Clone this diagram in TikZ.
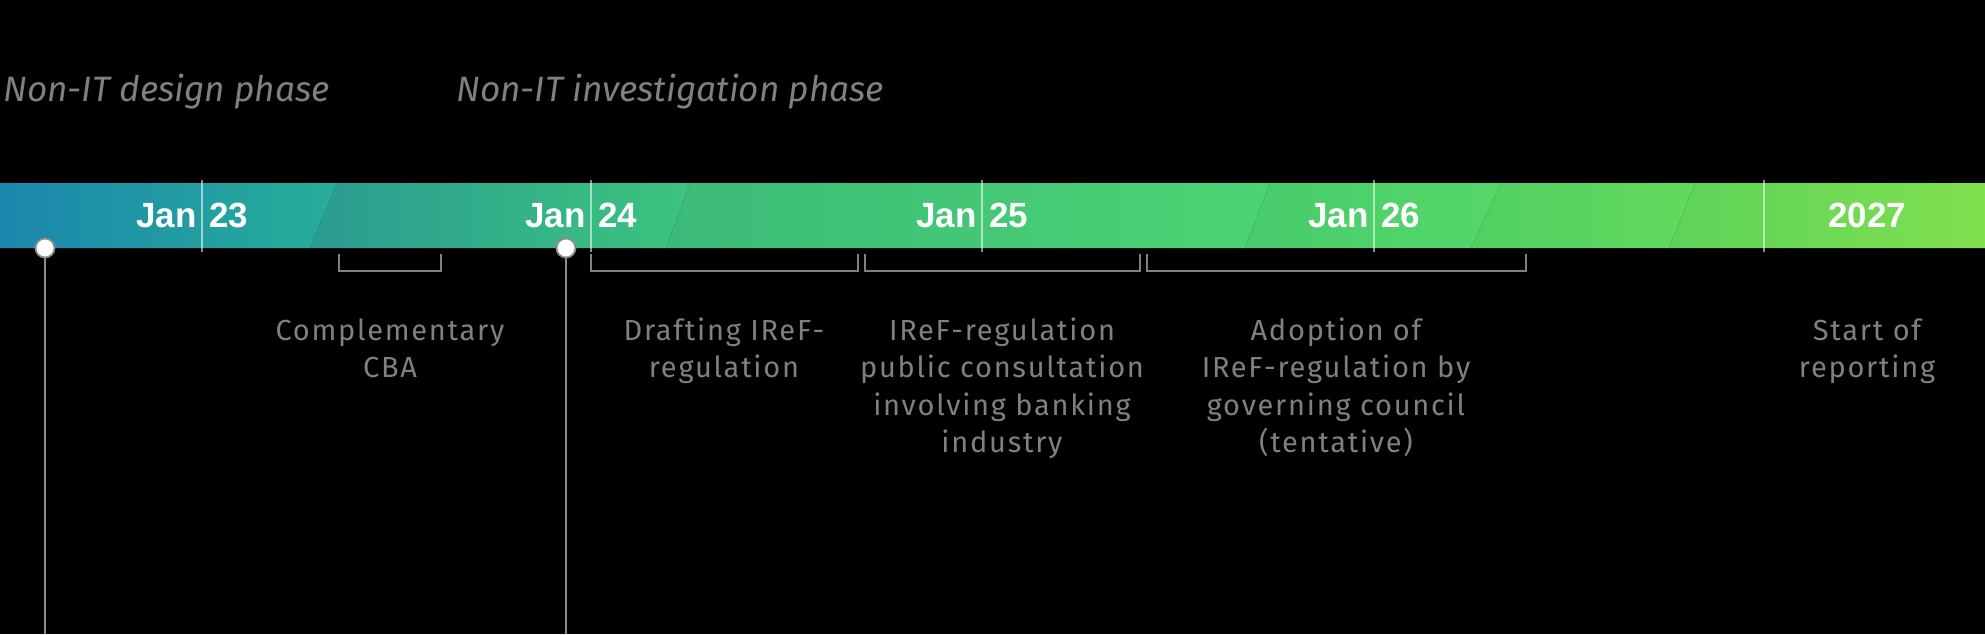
\documentclass[tikz,border=0pt]{standalone}
\usepackage{fontspec}
\setmainfont{Fira Sans}
\newfontfamily\barfont{Liberation Sans}
\newfontfamily\stepfont[LetterSpace=6]{Fira Sans}
\usetikzlibrary{positioning}
\definecolor{txtgray}{HTML}{808080}
\definecolor{pingray}{HTML}{8C8C8C}
% bar colours, left to right
\definecolor{barA}{HTML}{1B86AE}
\definecolor{barB}{HTML}{27AE98}
\definecolor{barC}{HTML}{2A9B92}
\definecolor{barD}{HTML}{3CC47E}
\definecolor{barE}{HTML}{3BBA79}
\definecolor{barF}{HTML}{4CD472}
\definecolor{barG}{HTML}{47CB6C}
\definecolor{barH}{HTML}{55D868}
\definecolor{barI}{HTML}{50CF63}
\definecolor{barJ}{HTML}{62DA5C}
\definecolor{barK}{HTML}{5DD35A}
\definecolor{barL}{HTML}{80E04D}
\tikzset{
  yearlbl/.style={text=white,font=\barfont\bfseries\fontsize{17.5}{20}\selectfont,inner sep=0pt},
  phaselbl/.style={text=txtgray,font=\itshape\fontsize{17.6}{20}\selectfont,inner sep=0pt,anchor=base west},
  steplbl/.style={text=txtgray,font=\stepfont\fontsize{14.5}{18.75}\selectfont,align=center,inner sep=0pt,anchor=base},
  bracket/.style={draw=txtgray,line width=1pt},
  divider/.style={draw=white,draw opacity=0.55,line width=0.7pt},
  pin/.style={circle,draw=pingray,fill=white,line width=0.9pt,inner sep=0pt,minimum size=9.5pt},
  pinline/.style={draw=pingray,line width=0.9pt}
}
\begin{document}
\begin{tikzpicture}[x=0.5pt,y=-0.5pt]
\useasboundingbox (0,0) rectangle (1985,634);
\fill[black] (0,0) rectangle (1985,634);
% phase titles
\node[phaselbl] (designph) at (3,101) {Non-IT design phase};
\node[phaselbl] (investph) at (456,101) {Non-IT investigation phase};
% bar, one slanted piece after the other
\shade[left color=barA,right color=barB] (0,183) -- (337,183) -- (310,248) -- (0,248) -- cycle;
\shade[left color=barC,right color=barD] (337,183) -- (690,183) -- (666,248) -- (310,248) -- cycle;
\shade[left color=barE,right color=barF] (690,183) -- (1270,183) -- (1245,248) -- (666,248) -- cycle;
\shade[left color=barG,right color=barH] (1270,183) -- (1501,183) -- (1471,248) -- (1245,248) -- cycle;
\shade[left color=barI,right color=barJ] (1501,183) -- (1695,183) -- (1669,248) -- (1471,248) -- cycle;
\shade[left color=barK,right color=barL] (1695,183) -- (1985,183) -- (1985,248) -- (1669,248) -- cycle;
% years
\foreach \x/\yr in {202/23,591/24,982/25,1374/26}{
  \draw[divider] (\x,180) -- (\x,252);
  \node[yearlbl,anchor=base east] (jan\yr) at (\x-5,227) {Jan};
  \node[yearlbl,anchor=base west] (yr\yr) at (\x+7,227) {\yr};
}
\draw[divider] (1764,180) -- (1764,252);
\node[yearlbl,anchor=base] (yr27) at (1867,227) {2027};
% milestones
\coordinate (endA) at (45,634);
\coordinate (endB) at (566,634);
\node[pin] (pinA) at (45,248) {};
\node[pin] (pinB) at (566,248) {};
\draw[pinline] (pinA.south) -- (endA);
\draw[pinline] (pinB.south) -- (endB);
% brackets
\draw[bracket] (339,254) |- (441,271) -- (441,254);
\draw[bracket] (591,254) |- (858,271) -- (858,254);
\draw[bracket] (865,254) |- (1140,271) -- (1140,254);
\draw[bracket] (1147,254) |- (1526,271) -- (1526,254);
% steps (base = last line)
\node[steplbl] (cba) at (390,377.5) {Complementary\\CBA};
\node[steplbl] (draft) at (724,377.5) {Drafting IReF-\\regulation};
\node[steplbl] (consult) at (1002,452.5) {IReF-regulation\\public consultation\\involving banking\\industry};
\node[steplbl] (adopt) at (1336,452.5) {Adoption of\\IReF-regulation by\\governing council\\(tentative)};
\node[steplbl] (report) at (1867,377.5) {Start of\\reporting};
\end{tikzpicture}
\end{document}
